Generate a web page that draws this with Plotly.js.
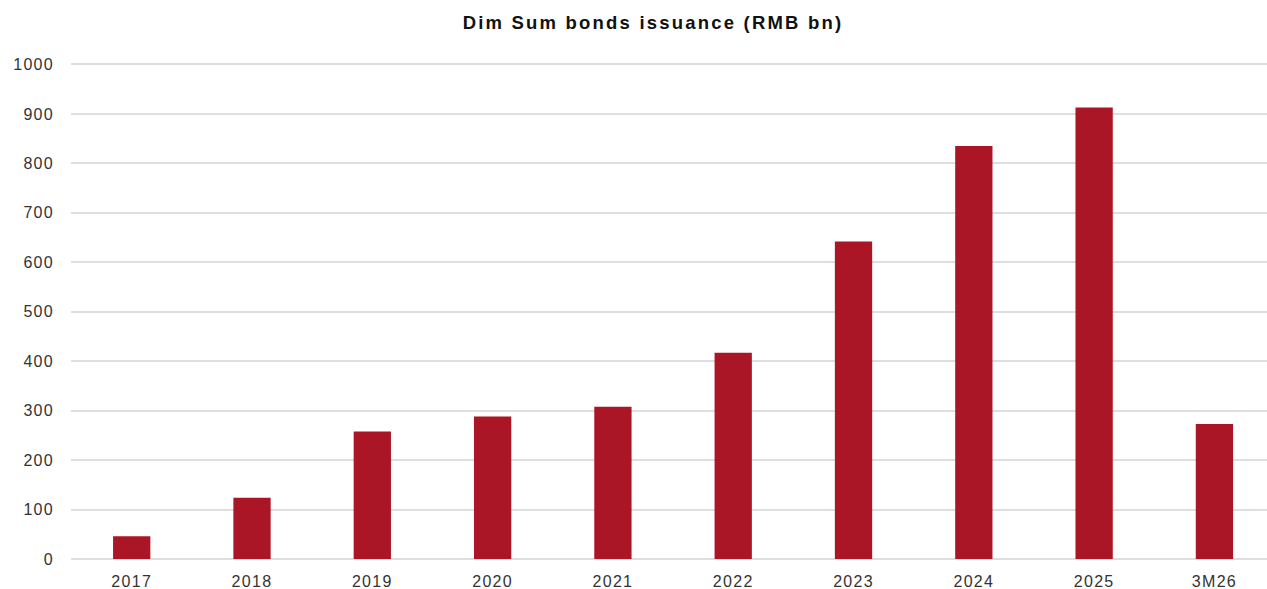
<!DOCTYPE html>
<html>
<head>
<meta charset="utf-8">
<script src="https://cdn.plot.ly/plotly-3.0.1.min.js"></script>
<style>
html,body{margin:0;padding:0;background:#fff;}
#chart{width:1267px;height:589px;}
#chart .gtitle{letter-spacing:2.2px;}
#chart .xtick text,#chart .ytick text{letter-spacing:1.3px;}
</style>
</head>
<body>
<div id="chart"></div>
<script>
const categories = ["2017","2018","2019","2020","2021","2022","2023","2024","2025","3M26"];
const issuance = [46, 124, 258, 288, 308, 417, 642, 835, 913, 273];
const yTicks = [0,100,200,300,400,500,600,700,800,900,1000];

const trace = {
  type: "bar",
  x: categories,
  y: issuance,
  marker: {color: "#AB1626"},
  width: 0.31,
  hoverinfo: "x+y"
};

const tickFont = {family: "Liberation Sans, Arial, sans-serif", size: 16, color: "#333333"};

const layout = {
  width: 1267,
  height: 589,
  margin: {l: 71, r: 0, t: 63, b: 30},
  paper_bgcolor: "#ffffff",
  plot_bgcolor: "#ffffff",
  showlegend: false,
  title: {
    text: "<b>Dim Sum bonds issuance (RMB bn)</b>",
    font: {family: "Liberation Sans, Arial, sans-serif", size: 18.5, color: "#111111"},
    x: 0.5154, xanchor: "center",
    y: 0.961, yanchor: "middle"
  },
  xaxis: {
    type: "category",
    range: [-0.5046, 9.437],
    showgrid: false,
    showline: false,
    zeroline: false,
    ticks: "",
    ticklabelstandoff: 11,
    tickfont: tickFont,
    automargin: false
  },
  yaxis: {
    range: [0, 1003],
    tickvals: yTicks,
    ticktext: yTicks.map(String),
    showgrid: true,
    gridcolor: "#DEDEDE",
    gridwidth: 2,
    zeroline: true,
    zerolinecolor: "#DEDEDE",
    zerolinewidth: 2,
    showline: false,
    ticks: "",
    ticklabelstandoff: 16,
    tickfont: tickFont,
    automargin: false
  }
};

Plotly.newPlot("chart", [trace], layout, {displayModeBar: false, staticPlot: true});
</script>
</body>
</html>
